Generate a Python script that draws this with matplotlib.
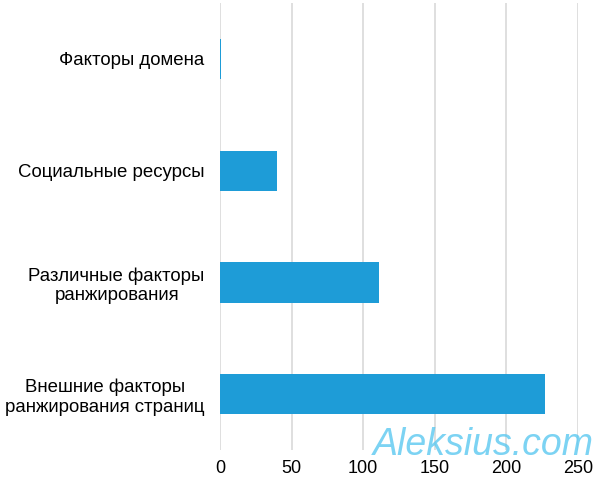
import matplotlib.pyplot as plt

categories = ["Факторы домена", "Социальные ресурсы",
              "Различные факторы\nранжирования",
              "Внешние факторы\nранжирования страниц"]
values = [1, 40, 111, 227]
xticks = [0, 50, 100, 150, 200, 250]

plt.rcParams['font.family'] = ['Liberation Sans', 'DejaVu Sans']

fig = plt.figure(figsize=(5.99, 4.84), dpi=100)
ax = fig.add_axes([0.3673, 0.0702, 0.5977, 0.9236])

ypos = range(len(categories))
ax.barh(ypos, values, height=0.36, color='#1E9CD7', zorder=3)
ax.set_ylim(3.5, -0.5)
ax.set_xlim(0, 250)
ax.set_xticks(xticks)
ax.set_yticks(list(ypos))
ax.set_yticklabels(categories, multialignment='center')
ax.tick_params(axis='y', length=0, pad=11, labelsize=13.4)
ax.tick_params(axis='x', length=0, pad=7, labelsize=13)
ax.grid(axis='x', color='#D9D9D9', linewidth=1.2, zorder=0)
for s in ax.spines.values():
    s.set_visible(False)

# watermark
fig.text(0.992, 0.06, "Aleksius.com", fontsize=27, style='italic',
         ha='right', va='baseline', color='#5BC8F0', alpha=0.8, zorder=5)

fig.savefig('out.png', dpi=100)
